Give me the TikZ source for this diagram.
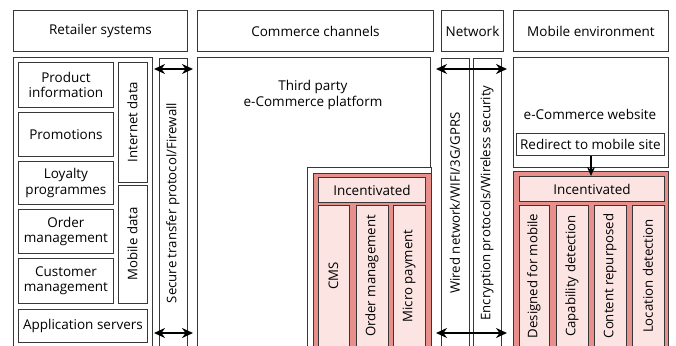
\documentclass[tikz,border=0pt]{standalone}
\usepackage{fontspec}
\setmainfont{Open Sans}
\usetikzlibrary{arrows.meta}
\definecolor{edge}{RGB}{55,55,55}
\definecolor{redfill}{RGB}{232,143,140}
\definecolor{pinkfill}{RGB}{252,228,227}
\tikzset{
  x=1pt, y=-1pt,
  box/.style={draw=edge, line width=0.9pt, fill=white, inner sep=0pt, anchor=north west, align=center, font=\fontsize{13.5}{15.5}\selectfont},
  redbox/.style={box, fill=redfill},
  pinkbox/.style={box, fill=pinkfill},
  col/.style={draw=edge, line width=0.9pt, fill=white, inner sep=0pt, rotate=90, font=\fontsize{13.2}{15}\selectfont},
  pinkcol/.style={col, fill=pinkfill},
  dblarrow/.style={line width=2pt, {Stealth[length=11pt,width=10pt]}-{Stealth[length=11pt,width=10pt]}},
  onearrow/.style={line width=2pt, -{Stealth[length=9pt,width=8pt]}},
  plain/.style={inner sep=0pt, align=center, font=\fontsize{13.5}{15.5}\selectfont}
}
\begin{document}
\begin{tikzpicture}
\useasboundingbox (0,0) rectangle (676,345);
\fill[white] (0,0) rectangle (676,345);
\clip (0,0) rectangle (676,345);
% headers
\node[box, minimum width=174pt, minimum height=41pt] (hret) at (13,10) {Retailer systems};
\node[box, minimum width=236pt, minimum height=41pt] (hcom) at (197,10) {Commerce channels};
\node[box, minimum width=62pt, minimum height=41pt] (hnet) at (441,10) {Network};
\node[box, minimum width=155pt, minimum height=41pt] (hmob) at (513,10) {Mobile environment};
% retailer body
\node[box, minimum width=139pt, minimum height=300pt] (rbody) at (13,57) {};
\node[box, minimum width=95pt, minimum height=45pt] (prod) at (18,62) {Product\\information};
\node[box, minimum width=95pt, minimum height=44pt] (promo) at (18,112) {Promotions};
\node[box, minimum width=95pt, minimum height=43pt] (loyal) at (18,161) {Loyalty\\programmes};
\node[box, minimum width=95pt, minimum height=44pt] (order) at (18,209) {Order\\management};
\node[box, minimum width=95pt, minimum height=45pt] (cust) at (18,258) {Customer\\management};
\node[box, minimum width=129pt, minimum height=33pt] (apps) at (18,309) {Application servers};
\node[col, minimum width=120pt, minimum height=29pt] (inet) at (132.5,122) {Internet data};
\node[col, minimum width=118pt, minimum height=29pt] (mdata) at (132.5,244) {Mobile data};
\node[col, minimum width=290pt, minimum height=28pt] (secure) at (173,203) {Secure transfer protocol/Firewall};
% commerce body
\node[box, minimum width=233pt, minimum height=300pt] (third) at (197,57) {};
\node[plain] (thirdtxt) at (313,95) {Third party\\e-Commerce platform};
\node[box, minimum width=124pt, minimum height=190pt] (cframe) at (307,167) {};
\node[redbox, minimum width=118pt, minimum height=184pt] (cred) at (313,173) {};
\node[pinkbox, minimum width=107pt, minimum height=25pt] (cinc) at (318,177) {Incentivated};
\node[pinkcol, minimum width=142pt, minimum height=31pt] (cms) at (333.5,276) {CMS};
\node[pinkcol, minimum width=142pt, minimum height=32pt] (corder) at (372,276) {Order management};
\node[pinkcol, minimum width=142pt, minimum height=32pt] (micro) at (409,276) {Micro payment};
% network
\node[col, minimum width=290pt, minimum height=28pt] (wired) at (455,203) {Wired network/WIFI/3G/GPRS};
\node[col, minimum width=290pt, minimum height=28pt] (encr) at (487,203) {Encryption protocols/Wireless security};
% mobile
\node[box, minimum width=155pt, minimum height=110pt] (mbody) at (513,57) {};
\node[plain] (ecw) at (590,114) {e-Commerce website};
\node[box, minimum width=148pt, minimum height=22pt] (redir) at (516,133) {Redirect to mobile site};
\node[redbox, minimum width=155pt, minimum height=184pt] (mred) at (513,171) {};
\node[pinkbox, minimum width=145pt, minimum height=25pt] (minc) at (519,176) {Incentivated};
\node[pinkcol, minimum width=142pt, minimum height=30pt] (design) at (534,276) {Designed for mobile};
\node[pinkcol, minimum width=142pt, minimum height=32pt] (capab) at (572,276) {Capability detection};
\node[pinkcol, minimum width=142pt, minimum height=32pt] (content) at (610,276) {Content repurposed};
\node[pinkcol, minimum width=142pt, minimum height=32pt] (locat) at (648,276) {Location detection};
% arrows
\coordinate (s1l) at (154,69); \coordinate (s1r) at (193,69);
\coordinate (s2l) at (154,333); \coordinate (s2r) at (193,333);
\coordinate (n1l) at (436,69); \coordinate (n1r) at (507,69);
\coordinate (n2l) at (436,333); \coordinate (n2r) at (507,333);
\draw[dblarrow] (s1l) -- (s1r);
\draw[dblarrow] (s2l) -- (s2r);
\draw[dblarrow] (n1l) -- (n1r);
\draw[dblarrow] (n2l) -- (n2r);
\draw[onearrow] (redir.south -| 591,0) -- (minc.north -| 591,0);
\end{tikzpicture}
\end{document}
